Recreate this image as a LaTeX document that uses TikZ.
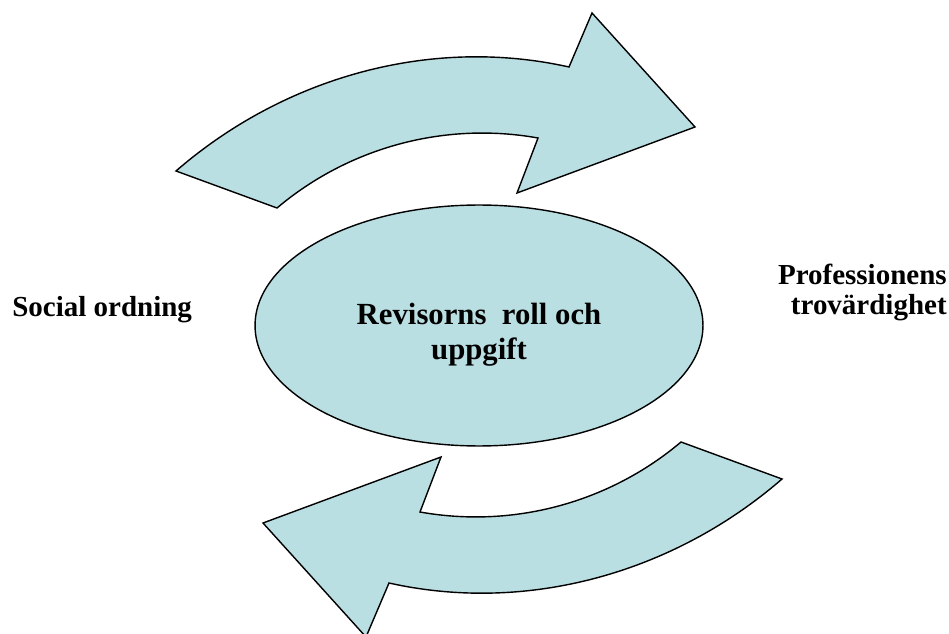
\documentclass[tikz,border=0pt]{standalone}
\usepackage{fontspec}
\setmainfont{Liberation Serif}
\usepackage{xcolor}
\definecolor{pale}{RGB}{186,223,226}
\usepackage{tikz}
\usetikzlibrary{shapes.geometric, positioning, calc}

\begin{document}
\begin{tikzpicture}[
    x=0.02cm, y=-0.02cm,
    bigarrow/.style={draw=black, fill=pale, line width=0.8pt, line join=miter},
    hub/.style={ellipse, draw=black, fill=pale, line width=0.8pt,
        minimum width=8.96cm, minimum height=4.82cm, inner sep=0pt},
    lbl/.style={inner sep=0pt, font=\fontsize{16.5}{17}\selectfont\bfseries}
    ]
    \useasboundingbox (0,0) rectangle (949,634);

    % the two bent arrows, the second one turned round the middle
    \foreach \ang in {0,180}
        \draw[bigarrow, rotate around={\ang:(479,325)}]
            (176,171) .. controls (283.7,77.6) and (429.8,35.9) .. (569,67)
            -- (592,13) -- (695,127) -- (517,193) -- (538,138)
            .. controls (445,121.4) and (349.2,147.1) .. (277,208) -- cycle;

    \node[hub] (role) at (479,325.5) {};
    \node[lbl, align=center, anchor=north, font=\fontsize{17.5}{20}\selectfont\bfseries]
        (roletxt) at (479,303) {Revisorns~ roll och\\uppgift};

    \node[lbl, anchor=base west] (social) at (12,317) {Social ordning};
    \node[lbl, align=right, anchor=north east] (trust) at (947,264)
        {Professionens\\trovärdighet};
\end{tikzpicture}
\end{document}
